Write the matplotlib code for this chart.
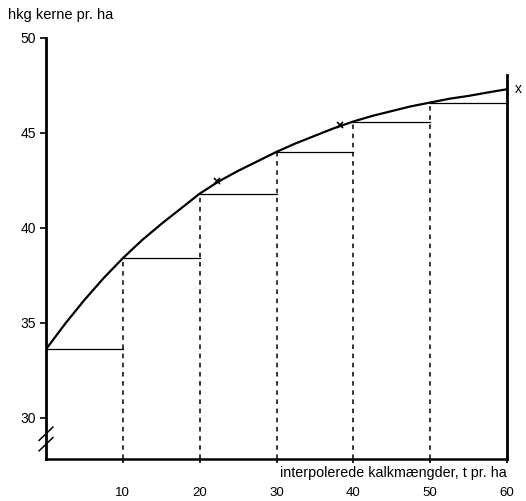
import matplotlib.pyplot as plt

# curve
curve_x = [0, 2.5, 5, 7.5, 10, 12.5, 15, 17.5, 20, 22.5, 25, 27.5, 30, 32.5, 35,
           37.5, 40, 42.5, 45, 47.5, 50, 52.5, 55, 57.5, 60]
curve_y = [33.6, 34.95, 36.2, 37.35, 38.4, 39.35, 40.2, 41.0, 41.8, 42.45, 43.0, 43.5,
           44.0, 44.45, 44.85, 45.25, 45.6, 45.9, 46.15, 46.4, 46.6, 46.8, 46.95, 47.13,
           47.3]

# step levels (value at left end of each 10 t interval)
step_x = [0, 10, 20, 30, 40, 50, 60]
step_y = [33.6, 38.4, 41.8, 44.0, 45.6, 46.6]

# marked points on the curve
mark_x = [22.2, 38.3]
mark_y = [42.45, 45.4]

x_ticks = [10, 20, 30, 40, 50, 60]
y_ticks = [30, 35, 40, 45, 50]

plt.rcParams['font.family'] = ['Liberation Sans', 'DejaVu Sans']

fig = plt.figure(figsize=(5.26, 5.01), dpi=100)
ax = fig.add_axes([46 / 526, 1 - 459 / 501, (507 - 46) / 526, (459 - 38) / 501])
ymin = 27.82
ax.set_xlim(0, 60)
ax.set_ylim(ymin, 50)

# curve
ax.plot(curve_x, curve_y, color='black', linewidth=1.6, solid_capstyle='round', zorder=3)

# steps and dashed verticals
for i, v in enumerate(step_y):
    ax.plot([step_x[i], step_x[i + 1]], [v, v], color='black', linewidth=0.9)
    if i > 0:
        ax.plot([step_x[i], step_x[i]], [ymin, v], color='black', linewidth=1.1,
                linestyle=(0, (3, 3)))

ax.plot(mark_x, mark_y, linestyle='none', marker='x', color='black', markersize=5,
        markeredgewidth=1.2, zorder=4)

# right-hand vertical line at 60
ax.plot([60, 60], [ymin, 48.05], color='black', linewidth=2, clip_on=False)

for s in ['top', 'right']:
    ax.spines[s].set_visible(False)
ax.spines['left'].set_linewidth(2)
ax.spines['bottom'].set_linewidth(1.8)
ax.spines['left'].set_bounds(ymin, 50)

ax.set_yticks(y_ticks)
ax.set_xticks(x_ticks)
ax.tick_params(axis='y', direction='out', length=4, width=1.2, labelsize=10, pad=3)
ax.tick_params(axis='x', direction='out', length=3, width=1.2, labelsize=9.5, pad=17)

# axis break marks
for dy in [0, 0.55]:
    ax.plot([-0.9, 0.9], [28.25 + dy, 28.95 + dy], color='black', linewidth=1.1,
            clip_on=False)

ax.text(60, ymin - 0.35, 'interpolerede kalkmængder, t pr. ha', ha='right', va='top',
        fontsize=10.3)
fig.text(8 / 526, 1 - 15 / 501, 'hkg kerne pr. ha', ha='left', va='center', fontsize=10.5)
ax.text(61.0, 47.3, 'x', ha='left', va='center', fontsize=10)

fig.savefig('out.png', dpi=100)
